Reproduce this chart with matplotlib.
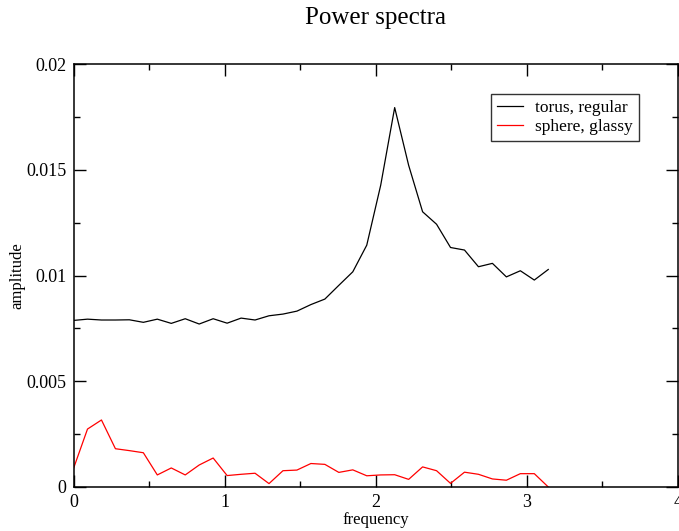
import numpy as np
import matplotlib
matplotlib.use("Agg")
import matplotlib.pyplot as plt
from matplotlib.ticker import MultipleLocator, FuncFormatter

# Frequency grid: 35 samples from 0 to pi.
frequency = np.linspace(0.0, np.pi, 35)

torus_regular = [
    0.00788, 0.00794, 0.00790, 0.00790, 0.00791, 0.00779, 0.00794, 0.00774,
    0.00796, 0.00771, 0.00796, 0.00775, 0.00799, 0.00790, 0.00810, 0.00818,
    0.00832, 0.00863, 0.00889, 0.00954, 0.01018, 0.01144, 0.01428, 0.01795,
    0.01522, 0.01302, 0.01243, 0.01133, 0.01121, 0.01042, 0.01058, 0.00994,
    0.01023, 0.00979, 0.01029,
]

sphere_glassy = [
    0.00088, 0.00274, 0.00317, 0.00181, 0.00172, 0.00162, 0.00057, 0.00090,
    0.00057, 0.00104, 0.00137, 0.00054, 0.00060, 0.00065, 0.00016, 0.00077,
    0.00080, 0.00111, 0.00107, 0.00069, 0.00081, 0.00053, 0.00057, 0.00058,
    0.00036, 0.00095, 0.00077, 0.00017, 0.00070, 0.00060, 0.00038, 0.00032,
    0.00063, 0.00063, 0.00000,
]

plt.rcParams["font.family"] = ["Liberation Serif", "DejaVu Serif"]

fig = plt.figure(figsize=(6.79, 5.31), dpi=100)
ax = fig.add_axes([0.1083, 0.0829, 0.8902, 0.7961])

ax.plot(frequency, torus_regular, color="black", lw=0.9, label="torus, regular")
ax.plot(frequency, sphere_glassy, color="red", lw=0.9, label="sphere, glassy")

ax.set_xlim(0, 4)
ax.set_ylim(0, 0.02)
ax.xaxis.set_major_locator(MultipleLocator(1))
ax.xaxis.set_minor_locator(MultipleLocator(0.5))
ax.yaxis.set_major_locator(MultipleLocator(0.005))
ax.yaxis.set_minor_locator(MultipleLocator(0.0025))
ax.yaxis.set_major_formatter(FuncFormatter(lambda v, p: "0" if v == 0 else f"{v:g}"))

ax.tick_params(which="both", direction="in", top=True, right=True,
               labelsize=13, width=1.0, pad=5)
ax.tick_params(which="major", length=8.5)
ax.tick_params(which="minor", length=4.5)
for s in ax.spines.values():
    s.set_linewidth(1.1)

ax.set_xlabel("frequency", fontsize=12, labelpad=1)
ax.set_ylabel("amplitude", fontsize=12, labelpad=1)
fig.suptitle("Power spectra", fontsize=18, x=0.553, y=0.987)

leg = ax.legend(loc="upper right", bbox_to_anchor=(0.936, 0.929), fontsize=12.5,
                frameon=True, fancybox=False, handlelength=1.5, handletextpad=0.7,
                borderpad=0.35, labelspacing=0.15, borderaxespad=0)
leg.get_frame().set_edgecolor("black")
leg.get_frame().set_linewidth(1.0)

fig.savefig("out.png", dpi=100)
